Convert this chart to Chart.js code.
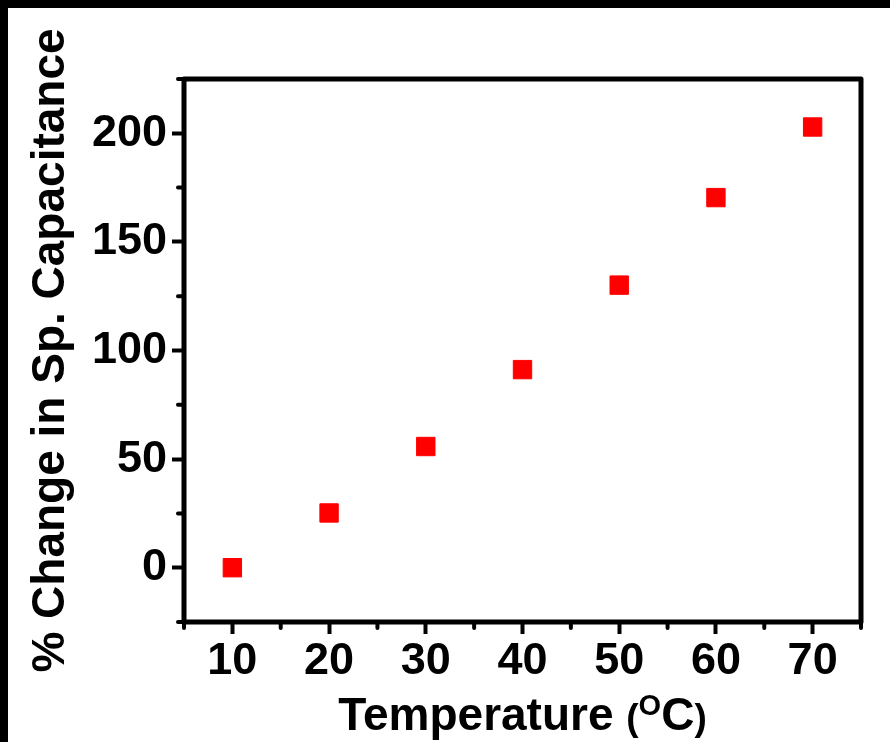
<!DOCTYPE html>
<html>
<head>
<meta charset="utf-8">
<script src="https://cdn.jsdelivr.net/npm/chart.js@4"></script>
<style>
  body { margin: 0; background: #fff; }
  #wrap { width: 882px; height: 734px; border-top: 8px solid #000; border-left: 8px solid #000; }
</style>
</head>
<body>
<div id="wrap"><canvas id="chart" width="882" height="734"></canvas></div>
<script>
// ===== data =====
const temps = [10, 20, 30, 40, 50, 60, 70];
const capChange = [0, 25.2, 55.8, 91.2, 130.1, 170.4, 202.9];
const xTicks = [10, 20, 30, 40, 50, 60, 70];
const yTicks = [0, 50, 100, 150, 200];
const xMinor = [5, 15, 25, 35, 45, 55, 65, 75];
const yMinor = [-25, 25, 75, 125, 175, 225];

const FONT = "'Liberation Sans', Arial, sans-serif";

// frame + minor ticks + x title
const framePlugin = {
    id: 'frame',
    afterDraw(chart) {
        const ctx = chart.ctx;
        const a = chart.chartArea;
        const xs = chart.scales.x, ys = chart.scales.y;
        ctx.save();
        ctx.strokeStyle = '#000';
        ctx.lineWidth = 5;
        ctx.lineJoin = 'round';
        ctx.strokeRect(a.left, a.top, a.right - a.left, a.bottom - a.top);

        ctx.lineWidth = 4;
        ctx.lineCap = 'round';
        ctx.beginPath();
        xMinor.forEach(v => {
            const px = xs.getPixelForValue(v);
            ctx.moveTo(px, a.bottom);
            ctx.lineTo(px, a.bottom + 6);
        });
        yMinor.forEach(v => {
            const py = ys.getPixelForValue(v);
            ctx.moveTo(a.left, py);
            ctx.lineTo(a.left - 6, py);
        });
        ctx.stroke();

        // x title: Temperature (°C) with superscript O
        const parts = [
            { t: 'Temperature ', f: 'bold 46px ' + FONT, dy: 0 },
            { t: '(', f: 'bold 37px ' + FONT, dy: 0 },
            { t: 'O', f: 'bold 29px ' + FONT, dy: -15 },
            { t: 'C', f: 'bold 46px ' + FONT, dy: 0 },
            { t: ')', f: 'bold 37px ' + FONT, dy: 0 }
        ];
        let total = 0;
        parts.forEach(p => { ctx.font = p.f; p.w = ctx.measureText(p.t).width; total += p.w; });
        let x = (a.left + a.right) / 2 - total / 2;
        const base = 722;
        ctx.fillStyle = '#000';
        ctx.textBaseline = 'alphabetic';
        parts.forEach(p => {
            ctx.font = p.f;
            ctx.fillText(p.t, x, base + p.dy);
            x += p.w;
        });
        ctx.restore();
    }
};

new Chart(document.getElementById('chart'), {
    type: 'scatter',
    data: {
        datasets: [{
            data: temps.map((t, i) => ({ x: t, y: capChange[i] })),
            pointStyle: 'rect',
            pointRadius: 13,
            pointHoverRadius: 13,
            backgroundColor: '#ff0000',
            borderColor: '#ff0000',
            borderWidth: 1
        }]
    },
    options: {
        responsive: false,
        animation: false,
        layout: { padding: { top: 71, right: 29, left: 0, bottom: 0 } },
        plugins: { legend: { display: false }, tooltip: { enabled: false } },
        scales: {
            x: {
                type: 'linear',
                min: 5, max: 75,
                afterBuildTicks: s => { s.ticks = xTicks.map(v => ({ value: v })); },
                afterFit: s => { s.height = 120; },
                border: { display: false },
                grid: { drawOnChartArea: false, drawTicks: true, tickLength: 12, tickWidth: 4, tickColor: '#000' },
                ticks: { color: '#000', font: { family: FONT, size: 45, weight: 'bold' }, padding: 1, maxRotation: 0 }
            },
            y: {
                min: -25, max: 225,
                afterBuildTicks: s => { s.ticks = yTicks.map(v => ({ value: v })); },
                afterFit: s => { s.width = 176; },
                border: { display: false },
                grid: { drawOnChartArea: false, drawTicks: true, tickLength: 12, tickWidth: 4, tickColor: '#000' },
                ticks: { color: '#000', font: { family: FONT, size: 45, weight: 'bold' }, padding: 5 },
                title: {
                    display: true,
                    text: '% Change in Sp. Capacitance',
                    color: '#000',
                    font: { family: FONT, size: 46, weight: 'bold' },
                    padding: { top: 16, bottom: 0 }
                }
            }
        }
    },
    plugins: [framePlugin]
});
</script>
</body>
</html>
